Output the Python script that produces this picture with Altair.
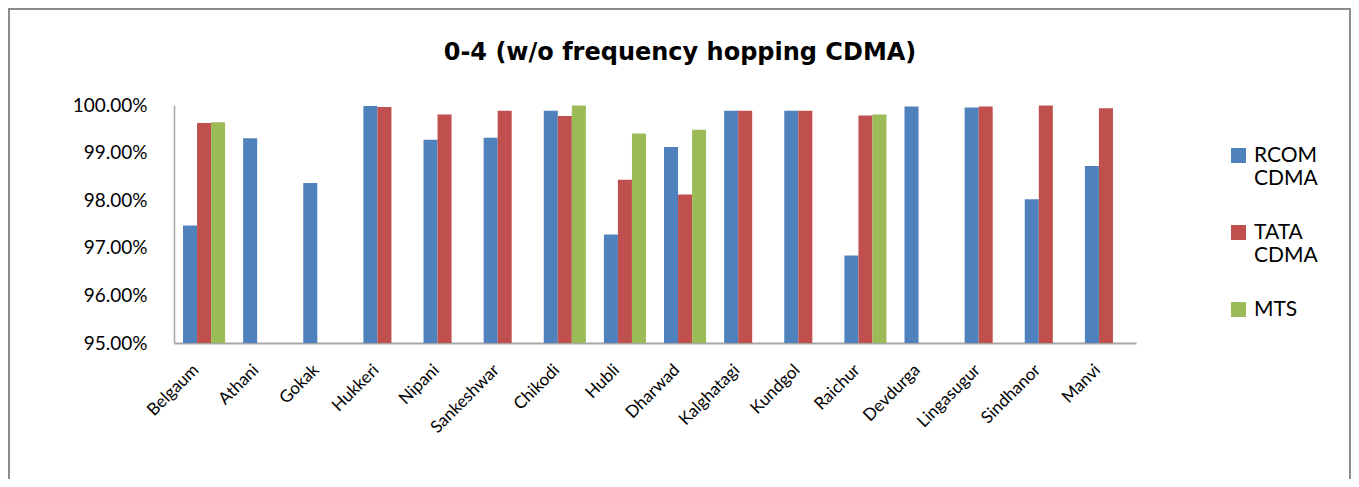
import altair as alt
import pandas as pd

cities = ["Belgaum", "Athani", "Gokak", "Hukkeri", "Nipani", "Sankeshwar", "Chikodi", "Hubli",
          "Dharwad", "Kalghatagi", "Kundgol", "Raichur", "Devdurga", "Lingasugur", "Sindhanor", "Manvi"]
series = ["RCOM CDMA", "TATA CDMA", "MTS"]
rcom = [97.47, 99.30, 98.36, 99.98, 99.27, 99.31, 99.88, 97.28, 99.12, 99.88, 99.88, 96.84, 99.97, 99.95, 98.02, 98.72]
tata = [99.62, None, None, 99.96, 99.80, 99.88, 99.77, 98.43, 98.12, 99.88, 99.88, 99.78, None, 99.97, 99.99, 99.93]
mts = [99.64, None, None, None, None, None, 99.99, 99.40, 99.48, None, None, 99.80, None, None, None, None]
colors = ["#4F81BD", "#C0504D", "#9BBB59"]
y_ticks = [95, 96, 97, 98, 99, 100]

rows = []
for name, vals in zip(series, [rcom, tata, mts]):
    for c, v in zip(cities, vals):
        if v is not None:
            rows.append({"City": c, "Series": name, "Value": v})
df = pd.DataFrame(rows)

FONT = "Lato"

bars = alt.Chart(df).mark_bar().encode(
    x=alt.X("City:N", sort=cities, title=None,
            scale=alt.Scale(paddingInner=0.3, paddingOuter=0.15),
            axis=alt.Axis(labelAngle=-45, labelAlign="right", labelBaseline="middle",
                          labelPadding=24, labelOffset=-8, labelFontSize=17, labelFont=FONT,
                          labelColor="#000000",
                          ticks=False, domainColor="#A6A6A6", domainWidth=2)),
    xOffset=alt.XOffset("Series:N", sort=series, scale=alt.Scale(domain=series, paddingInner=0, paddingOuter=0)),
    y=alt.Y("Value:Q", title=None,
            scale=alt.Scale(domain=[95, 100], zero=False, nice=False),
            axis=alt.Axis(values=y_ticks, labelExpr="format(datum.value, '.2f') + '%'",
                          labelFontSize=19, labelFont=FONT, labelColor="#000000", labelPadding=27,
                          ticks=False, grid=False, domainColor="#A6A6A6", domainWidth=1.5)),
    y2=alt.datum(95),
    color=alt.Color("Series:N", sort=series,
                    scale=alt.Scale(domain=series, range=colors),
                    legend=alt.Legend(title=None, orient="none", legendX=1054, legendY=40,
                                      symbolType="square", symbolSize=225, symbolStrokeWidth=0,
                                      labelFontSize=21, labelFont=FONT, labelColor="#000000",
                                      labelExpr="split(datum.label, ' ')",
                                      rowPadding=32, labelOffset=5)),
)

one = alt.Data(values=[{"k": 0}])
frame = alt.Chart(one).mark_rect(fillOpacity=0, stroke="#8C8C8C", strokeWidth=2).encode(
    x=alt.value(-165), x2=alt.value(1176), y=alt.value(-96), y2=alt.value(400)
)

chart = alt.layer(bars, frame).properties(
    width=962, height=238,
    autosize=alt.AutoSizeParams(type="none"),
    padding={"left": 166, "top": 97, "right": 215, "bottom": 136},
    title=alt.TitleParams("0-4 (w/o frequency hopping CDMA)", font="DejaVu Sans", fontSize=24,
                          fontWeight="bold", color="#000000", anchor="middle", frame="group",
                          dx=25, offset=-57),
).configure(background="white").configure_view(stroke=None)

chart.save("out.html", embed_options={"renderer": "svg", "actions": False})
